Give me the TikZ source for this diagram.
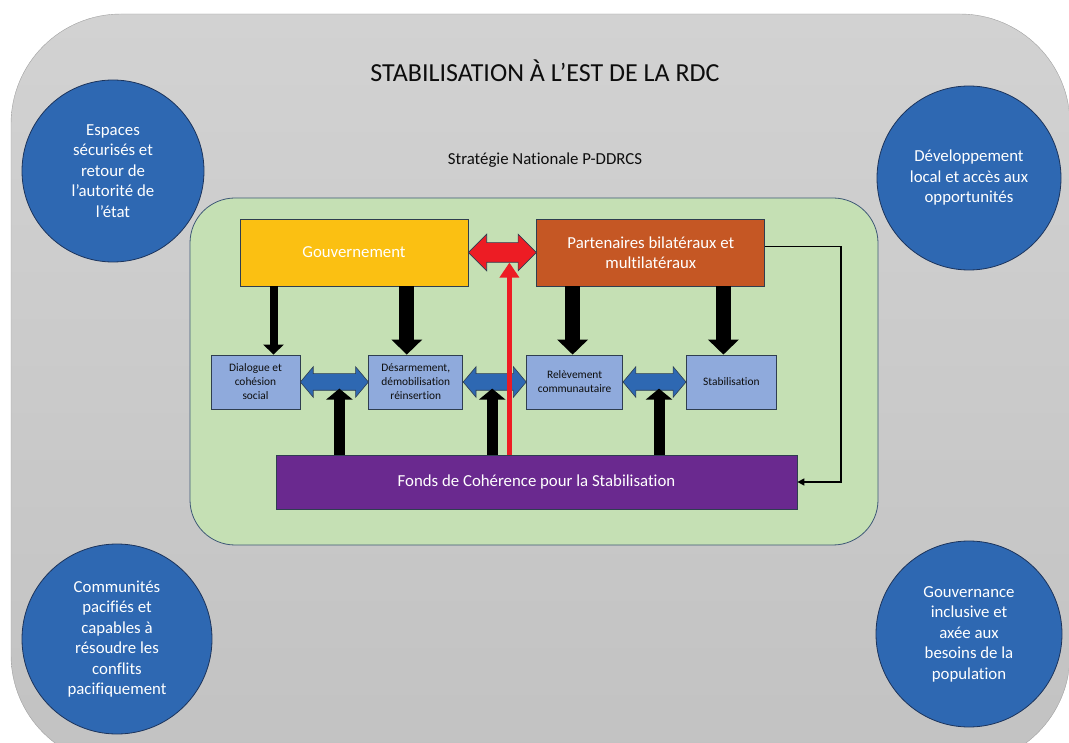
\documentclass[tikz,border=0pt]{standalone}
\usepackage{fontspec}
\setmainfont{Carlito}[Ligatures=NoCommon]
\usepackage{tikz}
\usetikzlibrary{arrows.meta,positioning,calc,shapes.arrows}

\definecolor{bgtop}{RGB}{210,210,210}
\definecolor{bgbot}{RGB}{194,194,194}
\definecolor{bgline}{RGB}{160,160,160}
\definecolor{circblue}{RGB}{46,104,178}
\definecolor{circline}{RGB}{28,52,92}
\definecolor{panelgreen}{RGB}{197,224,180}
\definecolor{panelline}{RGB}{62,88,118}
\definecolor{govyellow}{RGB}{251,192,18}
\definecolor{partorange}{RGB}{197,87,36}
\definecolor{subblue}{RGB}{143,170,220}
\definecolor{fundpurple}{RGB}{106,41,143}
\definecolor{boxline}{RGB}{47,62,80}
\definecolor{arrred}{RGB}{237,28,36}
\definecolor{inktext}{RGB}{13,13,13}

\begin{document}
\begin{tikzpicture}[
  x=1pt, y=-1pt,
  font=\fontsize{16.8}{20.5}\selectfont,
  circ/.style={circle, draw=circline, fill=circblue, text=white, align=center,
               inner sep=0pt, line width=0.8pt},
  headbox/.style={draw=boxline, line width=0.8pt, minimum width=228pt,
                  minimum height=67pt, text=white, align=center},
  sub/.style={draw=boxline, line width=0.8pt, fill=subblue, minimum height=54pt,
              align=center, inner sep=1pt, text=inktext,
              font=\fontsize{11.4}{14}\selectfont},
  bdbl/.style={double arrow, draw=boxline, fill=circblue, line width=0.6pt,
               inner xsep=0pt, inner ysep=8pt, minimum width=0pt,
               double arrow head extend=7pt, double arrow tip angle=100},
  rdbl/.style={double arrow, draw=boxline, fill=arrred, line width=0.6pt,
               inner xsep=0pt, inner ysep=9.5pt, minimum width=0pt,
               double arrow head extend=8.5pt, double arrow tip angle=90},
  dn/.style={line width=15pt, -{Triangle[length=15pt, width=30pt]}},
  dnthin/.style={line width=8pt, -{Triangle[length=10pt, width=20pt]}},
  up/.style={line width=11pt, -{Triangle[length=11pt, width=26pt]}},
  redup/.style={arrred, line width=5pt, -{Triangle[length=15pt, width=19pt]}},
  link/.style={line width=1.5pt, -{Triangle[length=7pt, width=7pt]}}
]
\useasboundingbox (0,0) rectangle (1069,743);
\clip (0,0) rectangle (1069,743);

% ---------- background ----------
\shade[top color=bgtop, bottom color=bgbot, draw=bgline, rounded corners=110pt]
  (11,14) rectangle (1070,765);

\node[text=inktext, font=\fontsize{26}{30}\selectfont] (title) at (545,71)
  {STABILISATION À L’EST DE LA RDC};
\node[text=inktext] (strat) at (545,160) {Stratégie Nationale P-DDRCS};

% ---------- outcome circles ----------
\node[circ, minimum size=182pt] (espaces) at (113,171)
  {Espaces\\sécurisés et\\retour de\\l’autorité de\\l’état};
\node[circ, minimum size=184pt] (devel) at (969,178)
  {Développement\\local et accès aux\\opportunités};
\node[circ, minimum size=190pt] (commu) at (117,639)
  {Communités\\pacifiés et\\capables à\\résoudre les\\conflits\\pacifiquement};
\node[circ, minimum size=186pt] (gouvce) at (969,634)
  {Gouvernance\\inclusive et\\axée aux\\besoins de la\\population};

% ---------- P-DDRCS panel ----------
\node[draw=panelline, fill=panelgreen, line width=0.8pt, rounded corners=45pt,
      minimum width=688pt, minimum height=347pt] (panel) at (534,371.5) {};

\node[headbox, fill=govyellow] (gouv) at (354,252.5) {Gouvernement};
\node[headbox, fill=partorange, right=68pt of gouv] (part)
  {Partenaires bilatéraux et\\multilatéraux};

\node[sub, minimum width=89pt] (dia) at (255.5,382) {Dialogue et\\cohésion\\social};
\node[sub, minimum width=94pt, right=68pt of dia] (des)
  {Désarmement,\\démobilisation\\réinsertion};
\node[sub, minimum width=96pt, right=63pt of des] (rel)
  {Relèvement\\communautaire};
\node[sub, minimum width=90pt, right=63pt of rel] (stab) {Stabilisation};

\node[draw=boxline, line width=0.8pt, fill=fundpurple, text=white,
      minimum width=521pt, minimum height=54pt] (fonds) at (536.5,482)
  {Fonds de Cohérence pour la Stabilisation};

% ---------- block arrows ----------
\node[rdbl, minimum height=68pt] (gp) at ($(gouv.east)!.5!(part.west)$) {};
\node[bdbl, minimum height=68pt] (ba1) at ($(dia.east)!.5!(des.west)$) {};
\node[bdbl, minimum height=63pt] (ba2) at ($(des.east)!.5!(rel.west)$) {};
\node[bdbl, minimum height=63pt] (ba3) at ($(rel.east)!.5!(stab.west)$) {};

% down from the two partners
\draw[dnthin] ($(dia.north |- gouv.south)+(18,0)$) -- ($(dia.north)+(18,0)$);
\draw[dn] ($(des.north |- gouv.south)+(-9,0)$) -- ($(des.north)+(-9,0)$);
\draw[dn] ($(rel.north |- part.south)+(-2,0)$) -- ($(rel.north)+(-2,0)$);
\draw[dn] ($(stab.north |- part.south)+(-8,0)$) -- ($(stab.north)+(-8,0)$);

% up from the fund
\draw[up] ($(ba1.south |- fonds.north)+(5,0)$) -- ($(ba1.south)+(5,-2)$);
\draw[up] ($(ba2.south |- fonds.north)+(-2.5,0)$) -- ($(ba2.south)+(-2.5,-2)$);
\draw[up] ($(ba3.south |- fonds.north)+(4.5,0)$) -- ($(ba3.south)+(4.5,-2)$);
\draw[redup] ($(gp.south |- fonds.north)+(7,0)$) -- ($(gp.south)+(7,0)$);

% partners feed the fund
\draw[link] ([yshift=6pt]part.east) -- ++(76,0) |- (fonds.east);

\end{tikzpicture}
\end{document}
